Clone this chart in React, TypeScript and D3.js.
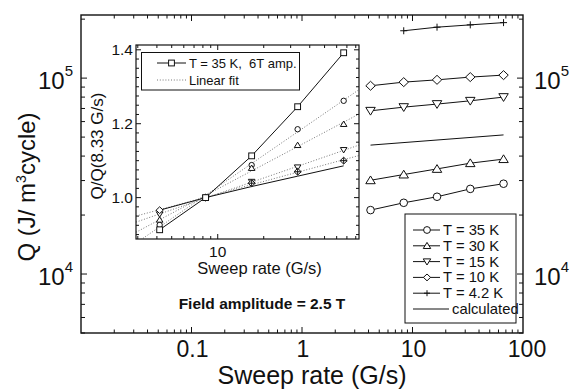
import * as d3 from "d3";

// sweep rates (G/s)
const rates = [4.17, 8.33, 16.67, 33.33, 66.67];
const ratesPlus = [8.33, 16.67, 33.33, 66.67];
const ratesCalc = [4.17, 66.67];

// main panel: Q (J/m^3 cycle), field amplitude 2.5 T
const q35K = [2.12e4, 2.31e4, 2.48e4, 2.72e4, 2.89e4];
const q30K = [3.01e4, 3.22e4, 3.44e4, 3.68e4, 3.86e4];
const q15K = [6.81e4, 7.11e4, 7.37e4, 7.66e4, 8.0e4];
const q10K = [9.14e4, 9.54e4, 9.8e4, 1.012e5, 1.036e5];
const q4K = [1.745e5, 1.82e5, 1.87e5, 1.92e5];
const qCalc = [4.55e4, 5.13e4];

// inset: Q / Q(8.33 G/s)
const n35K6T = [0.913, 1.0, 1.113, 1.246, 1.392];
const n35K = [0.926, 1.0, 1.088, 1.185, 1.262];
const n30K = [0.94, 1.0, 1.08, 1.142, 1.199];
const n15K = [0.955, 1.0, 1.043, 1.082, 1.129];
const n10K = [0.966, 1.0, 1.039, 1.07, 1.1];
const n4K = [1.0, 1.039, 1.07, 1.1];
const nCalc = [0.966, 1.0, 1.03, 1.058, 1.086];

const mainXTicks = [0.1, 1, 10, 100];
const mainYTicks = [1e4, 1e5];
const insetYTicks = [1.0, 1.2, 1.4];
const insetXTicks = [10];

const legendLabels = ["T = 35 K", "T = 30 K", "T = 15 K", "T = 10 K", "T = 4.2 K", "calculated"];

const W = 573;
const H = 390;
const FONT = "'Liberation Sans', Arial, Helvetica, sans-serif";

type Kind = "circle" | "up" | "down" | "diamond" | "plus" | "square";

const Marker = ({ kind, cx, cy, s }: { kind: Kind; cx: number; cy: number; s: number }) => {
  const common = { fill: "white", stroke: "#111", strokeWidth: 1 };
  if (kind === "circle") return <circle cx={cx} cy={cy} r={s} {...common} />;
  if (kind === "square")
    return <rect x={cx - s} y={cy - s} width={2 * s} height={2 * s} {...common} />;
  if (kind === "plus")
    return (
      <path
        d={`M${cx - s},${cy}H${cx + s}M${cx},${cy - s}V${cy + s}`}
        stroke="#111"
        strokeWidth={1}
        fill="none"
      />
    );
  if (kind === "diamond")
    return (
      <path
        d={`M${cx},${cy - s}L${cx + s * 1.05},${cy}L${cx},${cy + s}L${cx - s * 1.05},${cy}Z`}
        {...common}
      />
    );
  const dir = kind === "up" ? 1 : -1;
  return (
    <path
      d={`M${cx},${cy - dir * s}L${cx + s * 1.1},${cy + dir * s * 0.8}L${cx - s * 1.1},${cy + dir * s * 0.8}Z`}
      {...common}
    />
  );
};

const fitLine = (xs: number[], ys: number[]) => {
  const lx = xs.map((v) => Math.log10(v));
  const mx = d3.mean(lx)!;
  const my = d3.mean(ys)!;
  const sxy = d3.sum(lx, (v, i) => (v - mx) * (ys[i] - my));
  const sxx = d3.sum(lx, (v) => (v - mx) * (v - mx));
  const b = sxy / sxx;
  return (v: number) => my + b * (Math.log10(v) - mx);
};

const App = () => {
  // main scales
  const x = d3.scaleLog().domain([0.01, 100]).range([81, 523]);
  const y = d3.scaleLog().domain([5000, 2.1e5]).range([333, 15]);
  const [x0, x1] = x.range();
  const [y0, y1] = y.range();

  // inset scales
  const xi = d3.scaleLog().domain([2.92, 84]).range([136, 359]);
  const yi = d3.scaleLinear().domain([0.888, 1.413]).range([239, 45]);
  const [ix0, ix1] = xi.range();
  const [iy0, iy1] = yi.range();

  const mainLine = d3
    .line<[number, number]>()
    .x((d) => x(d[0]))
    .y((d) => y(d[1]));
  const insetLine = d3
    .line<[number, number]>()
    .x((d) => xi(d[0]))
    .y((d) => yi(d[1]));

  const mainSeries: { kind: Kind; xs: number[]; ys: number[] }[] = [
    { kind: "circle", xs: rates, ys: q35K },
    { kind: "up", xs: rates, ys: q30K },
    { kind: "down", xs: rates, ys: q15K },
    { kind: "diamond", xs: rates, ys: q10K },
    { kind: "plus", xs: ratesPlus, ys: q4K },
  ];
  const mainSize: Record<Kind, number> = { circle: 3.8, up: 4.3, down: 4.3, diamond: 4.5, plus: 3.5, square: 3.5 };

  const fitSeries: { kind: Kind; ys: number[] }[] = [
    { kind: "circle", ys: n35K },
    { kind: "up", ys: n30K },
    { kind: "down", ys: n15K },
    { kind: "diamond", ys: n10K },
  ];
  const insetSize: Record<Kind, number> = { circle: 2.7, up: 3, down: 3, diamond: 3.4, plus: 3.2, square: 2.9 };

  const xMinor = x.ticks().filter((t) => !mainXTicks.includes(t) && t !== 0.01);
  const yMinor = y.ticks().filter((t) => !mainYTicks.includes(t));
  const xiMinor = xi.ticks().filter((t) => !insetXTicks.includes(t));
  const yiMinor = d3.range(0.9, 1.41, 0.025).filter((t) => insetYTicks.every((m) => Math.abs(m - t) > 1e-6));

  const fitDomain = xi.domain();

  return (
    <svg
      width={W}
      height={H}
      style={{ position: "absolute", left: 0, top: 0, background: "white" }}
      fontFamily={FONT}
    >
      <rect x={0} y={0} width={W} height={H} fill="white" />

      {/* main frame */}
      <rect x={x0} y={y1} width={x1 - x0} height={y0 - y1} fill="none" stroke="#111" strokeWidth={1.4} />

      {/* main x ticks, bottom and top */}
      {[...mainXTicks.filter((t) => t < 100), ...xMinor].map((t, i) => {
        const len = mainXTicks.includes(t) ? 6 : 3.5;
        return (
          <g key={`mx${i}`} stroke="#111" strokeWidth={1}>
            <line x1={x(t)} x2={x(t)} y1={y0} y2={y0 - len} />
            <line x1={x(t)} x2={x(t)} y1={y1} y2={y1 + len} />
          </g>
        );
      })}
      {mainXTicks.map((t) => (
        <text
          key={`mxl${t}`}
          x={x(t) + (t === 100 ? 4 : 1)}
          y={y0 + 24}
          fontSize={23}
          textAnchor="middle"
          fill="#111"
        >
          {t}
        </text>
      ))}

      {/* main y ticks, left and right */}
      {[...mainYTicks, ...yMinor].map((t, i) => {
        const len = mainYTicks.includes(t) ? 6 : 4;
        return (
          <g key={`my${i}`} stroke="#111" strokeWidth={1}>
            <line x1={x0} x2={x0 + len} y1={y(t)} y2={y(t)} />
            <line x1={x1} x2={x1 - len} y1={y(t)} y2={y(t)} />
          </g>
        );
      })}
      {mainYTicks.map((t) => {
        const p = Math.round(Math.log10(t));
        return (
          <g key={`myl${t}`} fill="#111">
            <text x={x0 - 8} y={y(t) + 11} fontSize={24} textAnchor="end">
              10
              <tspan dy={-13} fontSize={15}>
                {p}
              </tspan>
            </text>
            <text x={x1 + 11} y={y(t) + 11} fontSize={24} textAnchor="start">
              10
              <tspan dy={-13} fontSize={15}>
                {p}
              </tspan>
            </text>
          </g>
        );
      })}

      {/* main axis titles */}
      <text x={312} y={384} fontSize={25} textAnchor="middle" fill="#111">
        Sweep rate (G/s)
      </text>
      <text transform={`translate(35, 187) rotate(-90)`} fontSize={24} textAnchor="middle" fill="#111">
        Q (J/ m<tspan dy={-9} fontSize={14}>3</tspan>
        <tspan dy={9}>cycle)</tspan>
      </text>
      <text x={262} y={309} fontSize={15.5} fontWeight="bold" textAnchor="middle" fill="#111">
        Field amplitude = 2.5 T
      </text>

      {/* main series */}
      <path
        d={mainLine(ratesCalc.map((r, i) => [r, qCalc[i]]) as [number, number][])!}
        fill="none"
        stroke="#111"
        strokeWidth={1}
      />
      {mainSeries.map((s) => (
        <g key={`ms${s.kind}`}>
          <path
            d={mainLine(s.xs.map((r, i) => [r, s.ys[i]]) as [number, number][])!}
            fill="none"
            stroke="#111"
            strokeWidth={1}
          />
          {s.xs.map((r, i) => (
            <Marker key={i} kind={s.kind} cx={x(r)} cy={y(s.ys[i])} s={mainSize[s.kind]} />
          ))}
        </g>
      ))}

      {/* main legend */}
      <rect x={405} y={214} width={111} height={109} fill="white" stroke="#111" strokeWidth={1} />
      {legendLabels.map((label, i) => {
        const ly = 230 + i * 15.8;
        const kind = mainSeries[i]?.kind;
        return (
          <g key={`lg${i}`}>
            <line x1={413} x2={kind ? 440 : 449} y1={ly} y2={ly} stroke="#111" strokeWidth={1} />
            {kind && <Marker kind={kind} cx={427} cy={ly} s={kind === "plus" ? 3 : 3.4} />}
            <text x={kind ? 443 : 452} y={ly + 5} fontSize={14.8} fill="#111">
              {label}
            </text>
          </g>
        );
      })}

      {/* inset */}
      <defs>
        <clipPath id="insetClip">
          <rect x={ix0} y={iy1} width={ix1 - ix0} height={iy0 - iy1} />
        </clipPath>
      </defs>
      <rect x={ix0} y={iy1} width={ix1 - ix0} height={iy0 - iy1} fill="white" />

      {/* inset ticks */}
      {[...insetXTicks, ...xiMinor].map((t, i) => {
        const len = insetXTicks.includes(t) ? 5 : 3;
        return (
          <g key={`ix${i}`} stroke="#111" strokeWidth={1}>
            <line x1={xi(t)} x2={xi(t)} y1={iy0} y2={iy0 - len} />
            <line x1={xi(t)} x2={xi(t)} y1={iy1} y2={iy1 + len} />
          </g>
        );
      })}
      {[...insetYTicks, ...yiMinor].map((t, i) => {
        const len = insetYTicks.includes(t) ? 5 : 3;
        return (
          <g key={`iy${i}`} stroke="#111" strokeWidth={1}>
            <line x1={ix0} x2={ix0 + len} y1={yi(t)} y2={yi(t)} />
            <line x1={ix1} x2={ix1 - len} y1={yi(t)} y2={yi(t)} />
          </g>
        );
      })}
      {insetYTicks.map((t) => (
        <text key={`iyl${t}`} x={ix0 - 3} y={yi(t) + 5} fontSize={15.5} textAnchor="end" fill="#111">
          {t.toFixed(1)}
        </text>
      ))}
      {insetXTicks.map((t) => (
        <text key={`ixl${t}`} x={xi(t)} y={iy0 + 18} fontSize={15.5} textAnchor="middle" fill="#111">
          {t}
        </text>
      ))}
      <text x={(ix0 + ix1) / 2 + 12} y={iy0 + 35} fontSize={16.5} textAnchor="middle" fill="#111">
        Sweep rate (G/s)
      </text>
      <text transform={`translate(103, ${(iy0 + iy1) / 2 + 4}) rotate(-90)`} fontSize={17} textAnchor="middle" fill="#111">
        Q/Q(8.33 G/s)
      </text>

      <g clipPath="url(#insetClip)">
        {fitSeries.map((s) => {
          const f = fitLine(rates, s.ys);
          return (
            <line
              key={`fit${s.kind}`}
              x1={xi(fitDomain[0])}
              x2={xi(fitDomain[1])}
              y1={yi(f(fitDomain[0]))}
              y2={yi(f(fitDomain[1]))}
              stroke="#777"
              strokeWidth={1}
              strokeDasharray="1,1.8"
            />
          );
        })}
        <path
          d={insetLine(rates.map((r, i) => [r, nCalc[i]]) as [number, number][])!}
          fill="none"
          stroke="#111"
          strokeWidth={1}
        />
        <path
          d={insetLine(rates.map((r, i) => [r, n35K6T[i]]) as [number, number][])!}
          fill="none"
          stroke="#111"
          strokeWidth={1}
        />
        {fitSeries.map((s) =>
          rates.map((r, i) => (
            <Marker key={`im${s.kind}${i}`} kind={s.kind} cx={xi(r)} cy={yi(s.ys[i])} s={insetSize[s.kind]} />
          ))
        )}
        {ratesPlus.map((r, i) => (
          <Marker key={`ip${i}`} kind="plus" cx={xi(r)} cy={yi(n4K[i])} s={insetSize.plus} />
        ))}
        {rates.map((r, i) => (
          <Marker key={`isq${i}`} kind="square" cx={xi(r)} cy={yi(n35K6T[i])} s={insetSize.square} />
        ))}
      </g>
      <rect x={ix0} y={iy1} width={ix1 - ix0} height={iy0 - iy1} fill="none" stroke="#111" strokeWidth={1.2} />

      {/* inset legend */}
      <rect x={141.5} y={52.5} width={158} height={37.5} fill="white" stroke="#111" strokeWidth={1} />
      <line x1={157} x2={186} y1={63} y2={63} stroke="#111" strokeWidth={1} />
      <Marker kind="square" cx={171.5} cy={63} s={2.9} />
      <text x={189} y={67.5} fontSize={13} fill="#111">
        {"T = 35 K,\u00a0 6T amp."}
      </text>
      <line x1={157} x2={186} y1={80} y2={80} stroke="#777" strokeWidth={1} strokeDasharray="1,1.8" />
      <text x={189} y={84.5} fontSize={13} fill="#111">
        Linear fit
      </text>
    </svg>
  );
};

export default App;
